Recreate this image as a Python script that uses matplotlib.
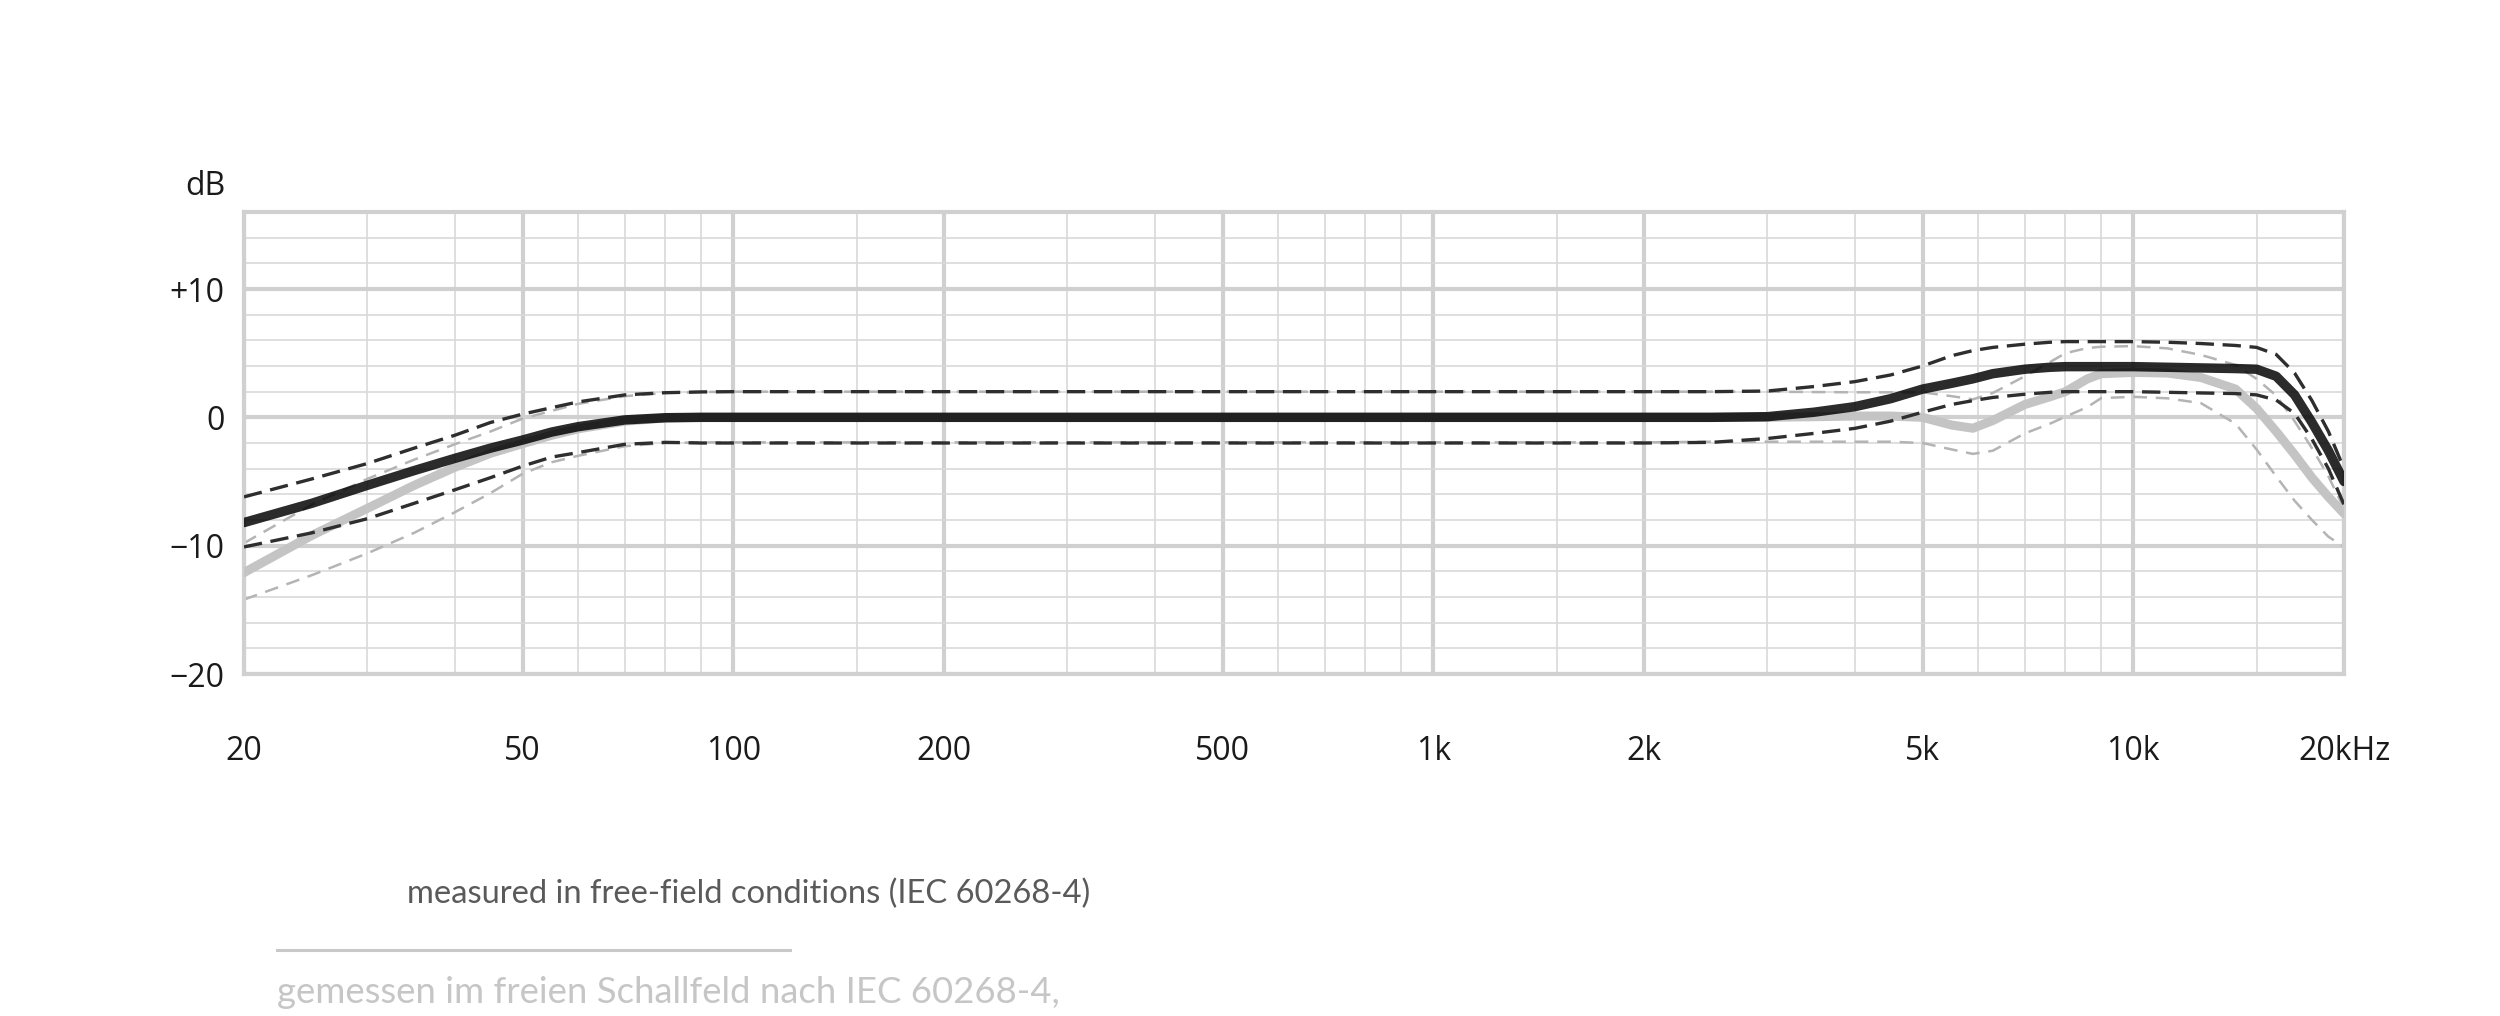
import matplotlib
matplotlib.use("Agg")
import matplotlib.pyplot as plt
from matplotlib.ticker import FixedLocator, NullFormatter

# ---------------- data ----------------
freq = [20, 25, 30, 35, 40, 45, 50, 55, 60, 70, 80, 90, 100, 200, 500, 1000,
        2000, 2500, 3000, 3500, 4000, 4500, 5000, 5500, 5900, 6300, 7000, 7600,
        8000, 8600, 9000, 10000, 11200, 12500, 14000, 15000, 16000, 17000,
        18000, 19000, 20000]

# dark curve (typical response) and its tolerance band
dark_resp = [-8.2, -6.7, -5.3, -4.15, -3.2, -2.4, -1.77, -1.15, -0.73, -0.2, -0.03, 0, 0, 0, 0, 0,
             0, 0, 0.05, 0.4, 0.83, 1.45, 2.2, 2.65, 3.0, 3.4, 3.75, 3.9,
             3.95, 3.95, 3.95, 3.95, 3.9, 3.85, 3.8, 3.75, 3.2, 1.75,
             -0.4, -2.6, -5.0]
dark_upper = [-6.2, -4.8, -3.6, -2.4, -1.4, -0.4, 0.25, 0.75, 1.2, 1.75, 1.92, 1.98, 2, 2, 2, 2,
              2, 2, 2.05, 2.4, 2.78, 3.3, 4.0, 4.8, 5.2, 5.45, 5.7, 5.85,
              5.9, 5.9, 5.9, 5.9, 5.85, 5.75, 5.6, 5.45, 4.9, 3.45,
              1.3, -1.1, -4.0]
dark_lower = [-10.1, -9.0, -7.9, -6.7, -5.65, -4.7, -3.8, -3.1, -2.75, -2.1, -1.95, -2, -2, -2, -2, -2,
              -2, -1.95, -1.65, -1.25, -0.86, -0.3, 0.4, 1.0, 1.3, 1.55, 1.8, 1.95,
              2.0, 2.0, 2.0, 2.0, 1.95, 1.9, 1.85, 1.75, 1.35, 0.3,
              -1.7, -4.0, -6.8]

# light curve and its tolerance band
light_resp = [-12.1, -9.2, -7.1, -5.3, -3.9, -2.8, -2.05, -1.4, -0.9, -0.3, -0.05, 0, 0, 0, 0, 0,
              0, 0, 0, 0.05, 0.1, 0.1, 0, -0.6, -0.85, -0.25, 1.0, 1.6,
              2.0, 3.0, 3.4, 3.5, 3.45, 3.1, 2.2, 0.7, -1.1, -2.9,
              -4.7, -6.2, -7.5]
light_upper = [-9.8, -6.8, -4.8, -3.3, -2.1, -1.1, -0.1, 0.5, 1.05, 1.65, 1.9, 1.97, 2, 2, 2, 2,
               2, 2, 2, 1.97, 1.95, 1.95, 1.95, 1.65, 1.4, 1.9, 3.2, 4.3,
               5.0, 5.4, 5.5, 5.55, 5.37, 4.86, 4.08, 3.0, 1.7, -0.3,
               -2.4, -4.6, -7.1]
light_lower = [-14.2, -12.3, -10.6, -9.0, -7.4, -5.9, -4.4, -3.5, -3.0, -2.25, -2.0, -1.95, -1.95, -1.95, -1.95, -1.95,
               -1.95, -1.9, -1.9, -1.9, -1.9, -1.9, -2.0, -2.5, -2.85, -2.6, -1.25, -0.5,
               0.05, 0.8, 1.5, 1.6, 1.48, 1.1, -0.5, -2.5, -4.6, -6.5,
               -8.0, -9.3, -10.1]

x_major = [20, 50, 100, 200, 500, 1000, 2000, 5000, 10000, 20000]
x_labels = ["20", "50", "100", "200", "500", "1k", "2k", "5k", "10k", "20kHz"]
x_minor = [30, 40, 60, 70, 80, 90, 150, 300, 400, 600, 700, 800, 900, 1500,
           3000, 4000, 6000, 7000, 8000, 9000, 15000]
y_major = [-20, -10, 0, 10]
y_labels = ["\u221220", "\u221210", "0", "+10"]
y_minor = [-18, -16, -14, -12, -8, -6, -4, -2, 2, 4, 6, 8, 12, 14]

note_en = "measured in free-field conditions (IEC 60268-4)"
note_de = "gemessen im freien Schallfeld nach IEC 60268-4,"

# ---------------- figure ----------------
W, H = 2500, 1016
fig = plt.figure(figsize=(W / 100, H / 100), dpi=100)
left, right, bottom, top = 244, 2344, 674, 212
ax = fig.add_axes([left / W, 1 - bottom / H, (right - left) / W, (bottom - top) / H])

ax.set_xscale("log")
ax.set_xlim(20, 20000)
ax.set_ylim(-20, 16)

grid_major = "#d0d0d0"
grid_minor = "#d9d9d9"
ax.xaxis.set_major_locator(FixedLocator(x_major))
ax.xaxis.set_minor_locator(FixedLocator(x_minor))
ax.xaxis.set_minor_formatter(NullFormatter())
ax.set_xticklabels(x_labels)
ax.yaxis.set_major_locator(FixedLocator(y_major))
ax.yaxis.set_minor_locator(FixedLocator(y_minor))
ax.set_yticklabels(y_labels)
ax.grid(which="major", color=grid_major, lw=3.0, zorder=0)
ax.grid(which="minor", color=grid_minor, lw=1.2, zorder=0)
ax.set_axisbelow(True)
ax.tick_params(which="both", length=0)
ax.tick_params(axis="x", pad=44, labelsize=23, labelcolor="#1a1a1a")
ax.tick_params(axis="y", pad=14, labelsize=23, labelcolor="#1a1a1a")
for lab in ax.get_xticklabels() + ax.get_yticklabels():
    lab.set_fontfamily("Open Sans")
for s in ax.spines.values():
    s.set_color(grid_major)
    s.set_linewidth(3.0)

# curves
ax.plot(freq, light_upper, color="#b4b4b4", lw=1.8, dashes=(5.5, 3.5), zorder=2)
ax.plot(freq, light_lower, color="#b4b4b4", lw=1.8, dashes=(5.5, 3.5), zorder=2)
ax.plot(freq, light_resp, color="#c4c4c4", lw=6.5, solid_capstyle="round",
        solid_joinstyle="round", zorder=3)
ax.plot(freq, dark_upper, color="#2e2e2e", lw=2.4, dashes=(5.5, 2.6), zorder=4)
ax.plot(freq, dark_lower, color="#2e2e2e", lw=2.4, dashes=(5.5, 2.6), zorder=4)
ax.plot(freq, dark_resp, color="black", alpha=0.83, lw=6.8, solid_capstyle="round",
        solid_joinstyle="round", zorder=5)

# dB unit label
fig.text(226 / W, 1 - 195 / H, "dB", ha="right", va="baseline", fontsize=23,
         family="Open Sans", color="#1a1a1a")

# footnotes
fig.text(407 / W, 1 - 903 / H, note_en, ha="left", va="baseline", fontsize=23.6,
         family="Lato", color="#5a5a5a")
fig.add_artist(plt.Line2D([277 / W, 790 / W], [1 - 950 / H, 1 - 950 / H],
                          transform=fig.transFigure, color="#c8c8c8", lw=2.2))
fig.text(277 / W, 1 - 1003 / H, note_de, ha="left", va="baseline", fontsize=26.3,
         family="Lato", color="#c6c6c6")

fig.savefig("out.png", dpi=100, facecolor="white")
